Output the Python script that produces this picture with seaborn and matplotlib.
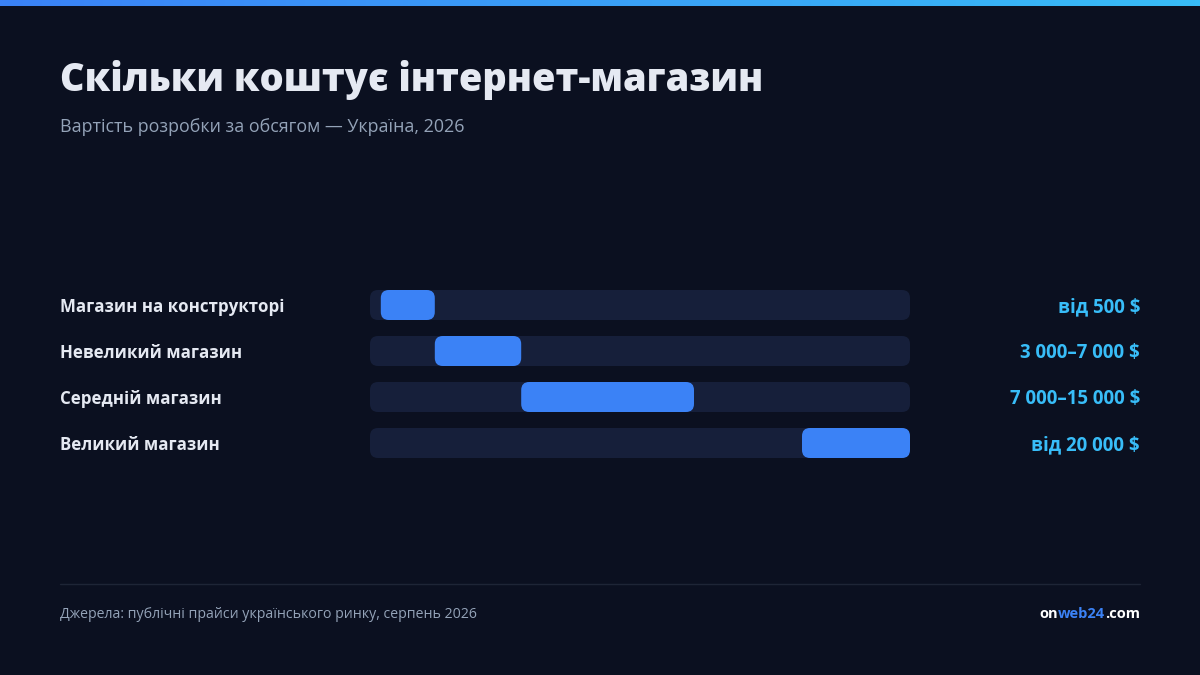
import matplotlib
matplotlib.use("Agg")
import matplotlib.pyplot as plt
import numpy as np
import seaborn as sns
from matplotlib.patches import FancyBboxPatch
from matplotlib.colors import LinearSegmentedColormap

# Data
categories = ["Магазин на конструкторі", "Невеликий магазин", "Середній магазин", "Великий магазин"]
price_from = [500, 3000, 7000, 20000]
price_to = [3000, 7000, 15000, 25000]
value_labels = ["від 500 $", "3 000–7 000 $", "7 000–15 000 $", "від 20 000 $"]
scale_max = 25000

BG = "#0b1020"
TRACK = "#161f3a"
BAR = "#3b82f6"
VALUE = "#38bdf8"
TEXT = "#e5e9f2"
MUTED = "#94a3b8"

sns.set_theme(style="white")
plt.rcParams["font.family"] = ["Open Sans", "Noto Sans", "DejaVu Sans"]

W, H = 1200, 675
fig = plt.figure(figsize=(12, 6.75), dpi=100, facecolor=BG)


def fy(py):
    return 1 - py / H


# top gradient strip
gax = fig.add_axes([0, 1 - 6 / H, 1, 6 / H])
cmap = LinearSegmentedColormap.from_list("g", [BAR, VALUE])
gax.imshow(np.linspace(0, 1, 256)[None, :], aspect="auto", cmap=cmap, extent=[0, 1, 0, 1])
gax.axis("off")

# bar axes: x 370..910 px, rows centred at 305..443 px
top, bottom = 282, 466
ax = fig.add_axes([370 / W, (H - bottom) / H, 540 / W, (bottom - top) / H])
ax.set_facecolor(BG)

widths = [b - a for a, b in zip(price_from, price_to)]
sns.barplot(x=[scale_max] * len(categories), y=categories, color=TRACK, width=30 / 46,
            ax=ax, saturation=1)
ax.barh(categories, widths, left=price_from, height=30 / 46, color=BAR)
ax.set_xlim(0, scale_max)
ax.set_ylim(len(categories) - 0.5, -0.5)

# round the corners
px_x = scale_max / 540
px_y = 1 / 46
r = 8 * px_x
for p in list(ax.patches):
    x0, y0, w, h = p.get_x(), p.get_y(), p.get_width(), p.get_height()
    fb = FancyBboxPatch((x0, y0), w, h, boxstyle=f"round,pad=0,rounding_size={r}",
                        mutation_aspect=px_y / px_x, facecolor=p.get_facecolor(),
                        edgecolor="none", zorder=p.get_zorder())
    p.remove()
    ax.add_patch(fb)
ax.axis("off")

# text
fig.text(60 / W, fy(80), "Скільки коштує інтернет-магазин", fontsize=27.4,
         fontweight="heavy", color=TEXT, va="center", ha="left")
fig.text(60 / W, fy(127), "Вартість розробки за обсягом — Україна, 2026", fontsize=12.9,
         color=MUTED, va="center", ha="left")

for i, (c, v) in enumerate(zip(categories, value_labels)):
    yc = 307 + 46 * i
    fig.text(60 / W, fy(yc), c, fontsize=12.2, fontweight="bold", color=TEXT,
             va="center", ha="left")
    fig.text(1140 / W, fy(yc), v, fontsize=13.4, fontweight="bold", color=VALUE,
             va="center", ha="right")

# footer
fig.add_artist(plt.Line2D([60 / W, 1140 / W], [fy(584), fy(584)], color="#1e2536", lw=1))
fig.text(60 / W, fy(615), "Джерела: публічні прайси українського ринку, серпень 2026",
         fontsize=10.2, color=MUTED, va="center", ha="left")

fig.canvas.draw()
renderer = fig.canvas.get_renderer()
xr = 1140
for part, col in [(".com", "#ffffff"), ("web24", BAR), ("on", "#ffffff")]:
    t = fig.text(xr / W, fy(614), part, fontsize=10.5, fontweight="bold", color=col,
                 va="center", ha="right")
    xr -= t.get_window_extent(renderer).width

fig.savefig("out.png", dpi=100, facecolor=BG)
